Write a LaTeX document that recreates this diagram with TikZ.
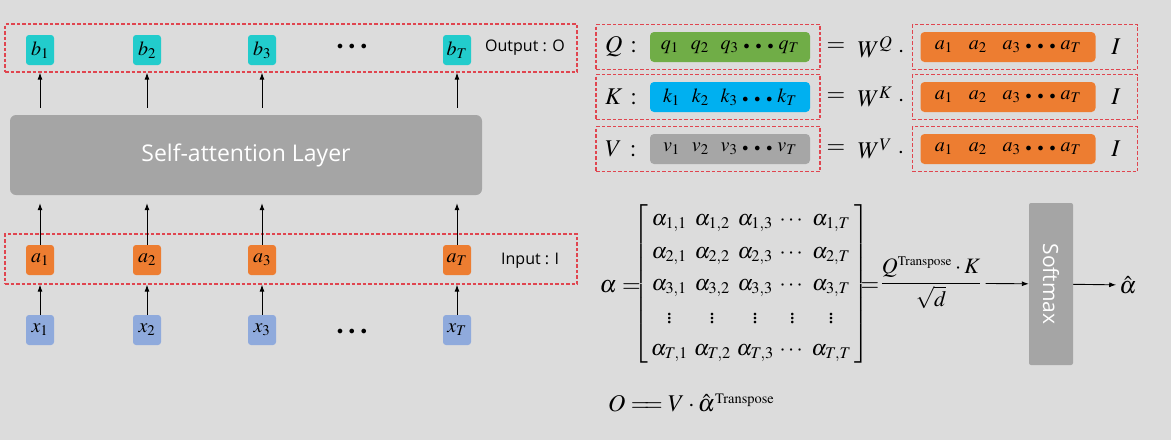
\documentclass[tikz,border=0pt]{standalone}
\usepackage{amsmath}
\usepackage{mathptmx}
\usepackage{fontspec}
\setmainfont{Liberation Serif}
\newfontfamily\labelfont{Open Sans}
\usetikzlibrary{arrows.meta,positioning}
\definecolor{canvas}{HTML}{DCDCDC}
\definecolor{groupred}{HTML}{E0454F}
\definecolor{tokencyan}{HTML}{22CCCC}
\definecolor{tokenorange}{HTML}{ED7D31}
\definecolor{tokenblue}{HTML}{8FAADC}
\definecolor{vecgreen}{HTML}{70AD47}
\definecolor{vecblue}{HTML}{00B0F0}
\definecolor{vecgray}{HTML}{A6A6A6}
\definecolor{layergray}{HTML}{A5A5A5}
\newcommand{\tdots}{{\fontsize{12}{14}\selectfont$\bullet$\hspace{6pt}$\bullet$\hspace{6pt}$\bullet$}}
\tikzset{
  token/.style={rounded corners=3pt,minimum width=28pt,minimum height=30pt,
                inner sep=0pt,font=\fontsize{20}{22}\selectfont},
  group/.style={draw=groupred,line width=1.3pt,dash pattern=on 3.5pt off 2pt,inner sep=0pt},
  vector/.style={rounded corners=4pt,minimum height=30pt,inner sep=0pt,
                 font=\fontsize{20}{22}\selectfont},
  sym/.style={inner sep=0pt,font=\fontsize{24}{26}\selectfont},
  link/.style={-{Latex[length=7pt,width=5pt]},line width=0.9pt},
  tag/.style={font=\labelfont\fontsize{16}{18}\selectfont,inner sep=0pt}
}

\begin{document}
\begin{tikzpicture}[x=1pt,y=-1pt,
  layerbox/.style={fill=layergray,rounded corners=6pt,text=white,
                   font=\labelfont\fontsize{23}{26}\selectfont},
  softbox/.style={fill=layergray,rounded corners=2pt,text=white,
                  font=\labelfont\fontsize{21}{24}\selectfont,
                  minimum width=162pt,minimum height=44pt,rotate=-90}
]
  \fill[canvas] (0,0) rectangle (1171,440);

  % sequence on the left
  \foreach \i/\x in {1/40,2/147,3/262,T/457}{
    \node[token,fill=tokencyan] (b\i) at (\x,50) {$b_{\i}$};
    \node[token,fill=tokenorange] (a\i) at (\x,260) {$a_{\i}$};
    \node[token,fill=tokenblue] (x\i) at (\x,330) {$x_{\i}$};
  }
  \node[inner sep=0pt] (bdots) at (352,47) {\tdots};
  \node[inner sep=0pt] (xdots) at (352,332) {\tdots};
  \node[group,minimum width=572pt,minimum height=48pt] (outbox) at (291,48) {};
  \node[group,minimum width=572pt,minimum height=50pt] (inbox) at (291,259) {};
  \node[tag,anchor=west] (outtag) at (485,48) {Output : O};
  \node[tag,anchor=west] (intag) at (501,261) {Input : I};
  \node[layerbox,minimum width=472pt,minimum height=80pt] (layer) at (246,155)
    {Self-attention Layer};
  \foreach \i in {1,2,3,T}{
    \draw[link] (x\i) -- (x\i |- inbox.south);
    \draw[link,shorten >=8pt] (a\i) -- (a\i |- layer.south);
    \draw[link,shorten <=7pt] (b\i |- layer.north) -- (b\i |- outbox.south);
  }

  % Q, K, V
  \foreach \r/\y/\col/\v in {Q/47/vecgreen/q,K/97/vecblue/k,V/149/vecgray/v}{
    \node[group,minimum width=224pt,minimum height=45pt] (left\r) at (708,\y) {};
    \node[sym] (lab\r) at (621,\y) {$\r\,:$};
    \node[vector,fill=\col,minimum width=160pt] (vec\r) at (730,\y)
      {$\v_1$\hspace{12pt}$\v_2$\hspace{12pt}$\v_3$\hspace{5pt}\tdots\hspace{5pt}$\v_T$};
    \node[sym] (eq\r) at (836,\y) {$=$};
    \node[sym] (w\r) at (881,\y) {$W^{\r}\;\cdot$};
    \node[group,minimum width=225pt,minimum height=45pt] (right\r) at (1025,\y) {};
    \node[vector,fill=tokenorange,minimum width=175pt] (in\r) at (1008,\y)
      {$a_1$\hspace{16pt}$a_2$\hspace{16pt}$a_3$\hspace{5pt}\tdots\hspace{5pt}$a_T$};
    \node[sym] (ident\r) at (1116,\y) {$I$};
  }

  % attention matrix
  \node[sym,anchor=east] (alphalab) at (641,287) {$\alpha=$};
  \node[inner sep=0pt,font=\fontsize{22}{26}\selectfont] (attn) at (751,284)
    {\renewcommand{\arraystretch}{1.25}\setlength{\arraycolsep}{3pt}%
     $\left[\begin{array}{ccccc}
      \alpha_{1,1} & \alpha_{1,2} & \alpha_{1,3} & \cdots & \alpha_{1,T}\\
      \alpha_{2,1} & \alpha_{2,2} & \alpha_{2,3} & \cdots & \alpha_{2,T}\\
      \alpha_{3,1} & \alpha_{3,2} & \alpha_{3,3} & \cdots & \alpha_{3,T}\\
      \vdots & \vdots & \vdots & \vdots & \vdots\\
      \alpha_{T,1} & \alpha_{T,2} & \alpha_{T,3} & \cdots & \alpha_{T,T}
     \end{array}\right]$};
  \node[sym] (attneq) at (870,287) {$=$};
  \node[inner sep=0pt,font=\fontsize{22}{26}\selectfont] (scaled) at (931,283)
    {$\dfrac{Q^{\scriptscriptstyle\mathrm{Transpose}}\cdot K}{\sqrt{d}}$};
  \node[softbox] (softmax) at (1051,284) {Softmax};
  \node[sym] (alphahat) at (1128,285) {$\hat{\alpha}$};
  \draw[link,shorten <=4pt] (scaled) -- (softmax);
  \draw[link,shorten >=3pt] (softmax) -- (alphahat);

  \node[sym,anchor=west] (outeq) at (608,403)
    {$O=\!\!=V\cdot\hat{\alpha}^{\scriptscriptstyle\mathrm{Transpose}}$};
\end{tikzpicture}
\end{document}
